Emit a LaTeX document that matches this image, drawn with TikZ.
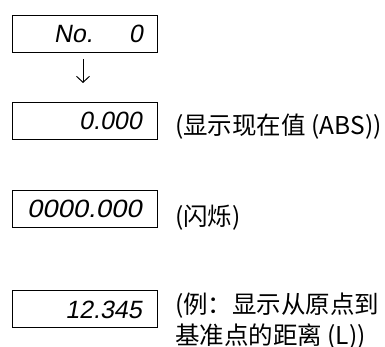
\documentclass[tikz,border=0pt]{standalone}
\usepackage{fontspec}
\usetikzlibrary{arrows.meta}
\setmainfont{Liberation Sans}
\newfontfamily\cjk{Noto Sans CJK SC}
\newfontfamily\lcd[FakeSlant=0.18]{Liberation Sans}
\begin{document}
\begin{tikzpicture}[x=1pt,y=-1pt,
  disp/.style={draw=black,line width=1pt,minimum width=145pt,minimum height=37pt,inner sep=0pt},
  lcdtext/.style={anchor=base east,inner sep=0pt,font=\lcd\fontsize{25}{25}\selectfont},
  note/.style={anchor=west,inner sep=0pt,align=left,font=\cjk\fontsize{24.5}{31}\selectfont}]
\useasboundingbox (0,0) rectangle (385,347);
% displays
\node[disp] (d1) at (85,34) {};
\node[disp] (d2) at (85,121) {};
\node[disp] (d3) at (85,209) {};
\node[disp] (d4) at (85,309) {};
% display contents
\node[lcdtext] (t1a) at (93,43) {No.};
\node[lcdtext] (t1b) at (143,43) {0};
\node[lcdtext] (t2) at (142,130) {0.000};
\node[lcdtext,xscale=1.1] (t3) at (142,218) {0000.000};
\node[lcdtext] (t4) at (142,318) {12.345};
% arrow
\coordinate (a1) at (83,59);
\coordinate (a2) at (83,83);
\draw[line width=1pt,-{Straight Barb[length=6pt,width=13pt,line width=1pt]}] (a1) -- (a2);
% notes
\node[note] (n2) at (175,127) {(显示现在值 (ABS))};
\node[note] (n3) at (175,218) {(闪烁)};
\node[note,anchor=north west] (n4) at (175,293) {(例：显示从原点到\\基准点的距离 (L))};
\end{tikzpicture}
\end{document}
